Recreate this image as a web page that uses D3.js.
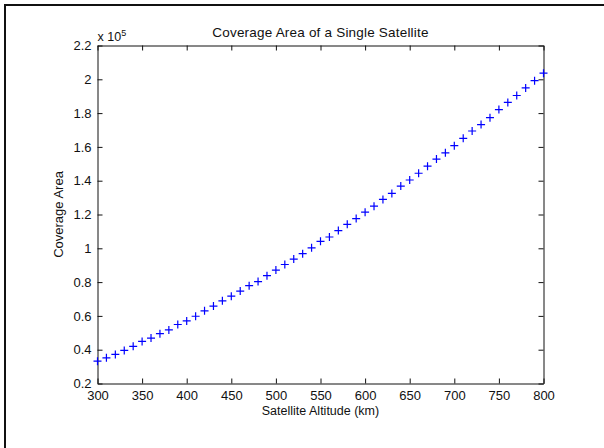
<!DOCTYPE html>
<html>
<head>
<meta charset="utf-8">
<script src="https://cdn.jsdelivr.net/npm/d3@7"></script>
<style>
  html, body { margin: 0; padding: 0; background: #fff; }
  svg { display: block; }
  text { font-family: "Liberation Sans", Arial, Helvetica, sans-serif; fill: #111; }
</style>
</head>
<body>
<script>
// Satellite altitude (km), sampled every 10 km
const altitudes = [300, 310, 320, 330, 340, 350, 360, 370, 380, 390,
                   400, 410, 420, 430, 440, 450, 460, 470, 480, 490,
                   500, 510, 520, 530, 540, 550, 560, 570, 580, 590,
                   600, 610, 620, 630, 640, 650, 660, 670, 680, 690,
                   700, 710, 720, 730, 740, 750, 760, 770, 780, 790, 800];

// Coverage area in units of 1e5
const coverage = [0.332, 0.352, 0.372, 0.396, 0.420, 0.449, 0.469, 0.495, 0.517, 0.549,
                  0.570, 0.598, 0.630, 0.658, 0.689, 0.717, 0.747, 0.779, 0.803, 0.838,
                  0.871, 0.904, 0.936, 0.968, 1.003, 1.041, 1.067, 1.105, 1.142, 1.176,
                  1.214, 1.249, 1.289, 1.325, 1.368, 1.404, 1.444, 1.486, 1.528, 1.565,
                  1.607, 1.651, 1.694, 1.732, 1.773, 1.821, 1.863, 1.904, 1.949, 1.992, 2.036];

const xTicks = [300, 350, 400, 450, 500, 550, 600, 650, 700, 750, 800];
const yTicks = [0.2, 0.4, 0.6, 0.8, 1.0, 1.2, 1.4, 1.6, 1.8, 2.0, 2.2];

const W = 604, H = 448;
const plot = { left: 97.5, right: 543.5, top: 45.5, bottom: 383.5 };

const svg = d3.select("body").append("svg")
  .attr("width", W).attr("height", H);

// figure frame
svg.append("rect")
  .attr("x", 5).attr("y", 5)
  .attr("width", W + 20).attr("height", H + 20)
  .attr("fill", "none").attr("stroke", "#111").attr("stroke-width", 2);

const x = d3.scaleLinear().domain([300, 800]).range([plot.left, plot.right]);
const y = d3.scaleLinear().domain([0.2, 2.2]).range([plot.bottom, plot.top]);

const tickLen = 5;
const fmtY = d => d3.format("")(+d.toFixed(1));

// bottom axis with labels
const axBottom = svg.append("g")
  .attr("transform", `translate(0,${plot.bottom})`)
  .call(d3.axisBottom(x).tickValues(xTicks).tickSizeInner(-tickLen).tickSizeOuter(0).tickPadding(7));
// left axis with labels
const axLeft = svg.append("g")
  .attr("transform", `translate(${plot.left},0)`)
  .call(d3.axisLeft(y).tickValues(yTicks).tickFormat(fmtY).tickSizeInner(-tickLen).tickSizeOuter(0).tickPadding(6));
// mirrored top and right ticks
const axTop = svg.append("g")
  .attr("transform", `translate(0,${plot.top})`)
  .call(d3.axisTop(x).tickValues(xTicks).tickFormat("").tickSizeInner(-tickLen).tickSizeOuter(0));
const axRight = svg.append("g")
  .attr("transform", `translate(${plot.right},0)`)
  .call(d3.axisRight(y).tickValues(yTicks).tickFormat("").tickSizeInner(-tickLen).tickSizeOuter(0));

[axBottom, axLeft, axTop, axRight].forEach(g => {
  g.selectAll(".domain").attr("stroke", "#111").attr("stroke-width", 1);
  g.selectAll(".tick line").attr("stroke", "#111").attr("stroke-width", 1);
  g.selectAll(".tick text")
    .attr("font-size", 13)
    .attr("font-family", "'Liberation Sans', Arial, sans-serif")
    .attr("fill", "#111");
});

// '+' markers
const half = 4;
const markers = svg.append("g")
  .attr("stroke", "#0000ff").attr("stroke-width", 1.2).attr("fill", "none");
markers.selectAll("path")
  .data(altitudes.map((a, i) => [a, coverage[i]]))
  .join("path")
  .attr("d", d => {
    const cx = x(d[0]), cy = y(d[1]);
    return `M${cx - half},${cy}H${cx + half}M${cx},${cy - half}V${cy + half}`;
  });

// title and axis labels
svg.append("text")
  .attr("x", (plot.left + plot.right) / 2).attr("y", 37)
  .attr("text-anchor", "middle").attr("font-size", 13.5)
  .attr("letter-spacing", 0.2)
  .text("Coverage Area of a Single Satellite");

svg.append("text")
  .attr("x", (plot.left + plot.right) / 2).attr("y", 415)
  .attr("text-anchor", "middle").attr("font-size", 12.5)
  .text("Satellite Altitude (km)");

svg.append("text")
  .attr("transform", `translate(63,${(plot.top + plot.bottom) / 2}) rotate(-90)`)
  .attr("text-anchor", "middle").attr("font-size", 13)
  .text("Coverage Area");

// exponent multiplier for the y axis
const expo = svg.append("text")
  .attr("x", plot.left).attr("y", 41)
  .attr("font-size", 12.5);
expo.append("tspan").text("x 10");
expo.append("tspan").attr("dy", -5).attr("font-size", 9).text("5");
</script>
</body>
</html>
